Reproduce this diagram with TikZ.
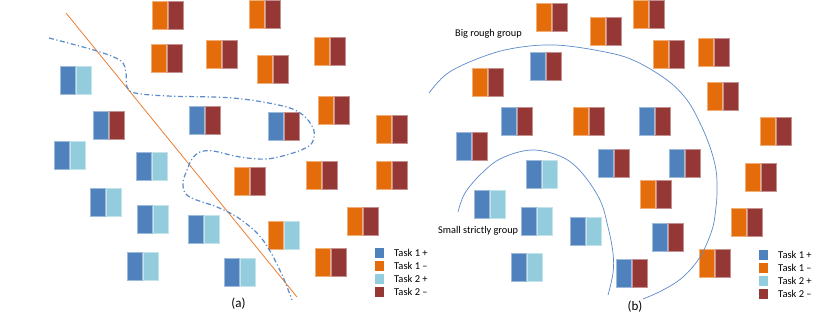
\documentclass[tikz,border=0pt]{standalone}
\usepackage{fontspec}
\setmainfont{Carlito}
\definecolor{cB}{HTML}{4F81BD}
\definecolor{cO}{HTML}{E46C0A}
\definecolor{cL}{HTML}{93CDDD}
\definecolor{cR}{HTML}{953735}
\definecolor{cLine}{HTML}{ED7D31}
\definecolor{cArc}{HTML}{5B8AC9}
\newcommand\pairbx[4]{%
  \filldraw[fill=c#3,draw=c#3!55!white,line width=0.5pt] (#1,#2) rectangle ++(15,28.5);
  \filldraw[fill=c#4,draw=c#4!55!white,line width=0.5pt] (#1+16.5,#2) rectangle ++(15,28.5);}
\tikzset{
  legsq/.style={draw=none,minimum width=9pt,minimum height=10pt,inner sep=0pt,anchor=north west},
  legtxt/.style={anchor=west,inner sep=0pt,font=\fontsize{10.5}{12}\selectfont},
  grptxt/.style={anchor=base west,inner sep=0pt,font=\fontsize{10.3}{12}\selectfont},
  sublbl/.style={inner sep=0pt,font=\fontsize{13}{15}\selectfont},
  dashdot/.style={draw=cArc,line width=1.2pt,dash pattern=on 5pt off 2.5pt on 1.2pt off 2.5pt},
  arcline/.style={draw=cArc,line width=0.7pt}
}
\begin{document}
\begin{tikzpicture}[x=1pt,y=-1pt]
\useasboundingbox (0,0) rectangle (830,314);
% ---- panel (a) ----
\foreach \x/\y/\l/\r in {152/1/O/R,249/0/O/R,151/44/O/R,206/40/O/R,257/55/O/R,314/37/O/R,
  60/66/B/L,93/111/B/R,189/106/B/R,268/112/B/R,318/96/O/R,376/115/O/R,
  54/141/B/L,136/152/B/L,234/167/O/R,306/161/O/R,376/161/O/R,90/188/B/L,
  137/205/B/L,188/215/B/L,268/221/O/L,347/207/O/R,315/248/O/R,127/252/B/L,224/258/B/L}
  {\pairbx{\x}{\y}{\l}{\r}}
\coordinate (la) at (66,13);
\coordinate (lb) at (297,297);
\draw[cLine,line width=0.8pt] (la) -- (lb);
\draw[dashdot] plot[smooth,tension=0.55] coordinates {(49,38) (97,51) (121,61) (126,73) (127,87) (135,93) (167,96) (233,98) (283,106) (303,115) (313,128) (314,138) (309,146) (293,153) (267,159) (240,157) (213,151) (200,152) (192,159) (187,170) (183,182) (185,193) (194,199) (217,207) (237,217) (257,233) (270,251) (283,277) (292,300)};
% legend (a)
\foreach \i/\c/\t in {0/B/Task 1 +,1/O/Task 1 –,2/L/Task 2 +,3/R/Task 2 –}{
  \node[legsq,fill=c\c] (sa\i) at (375,248+13*\i) {};
  \node[legtxt] (ta\i) at (394,253+13*\i) {\t};
}
\node[sublbl] (capa) at (238.5,303.5) {(a)};
% ---- panel (b) ----
\foreach \x/\y/\l/\r in {536/3/O/R,590/17/O/R,633/0/O/R,653/40/O/R,698/38/O/R,530/52/B/R,
  472/68/O/R,707/82/O/R,501/107/B/R,573/107/O/R,639/107/B/R,760/117/O/R,
  456/132/B/R,598/149/B/R,669/149/B/R,526/160/B/L,745/163/O/R,640/180/O/R,
  474/190/B/L,521/207/B/L,570/217/B/L,652/223/B/R,731/208/O/R,699/249/O/R,511/253/B/L,616/259/B/R}
  {\pairbx{\x}{\y}{\l}{\r}}
\draw[arcline] plot[smooth,tension=0.6] coordinates {(429,93) (448,73) (482,57) (515,48) (555,45) (600,51) (633,60) (667,80) (687,100) (700,123) (710,147) (716,170) (717,190) (716,207) (712,230) (700,257) (683,277) (663,290) (643,299)};
\draw[arcline] plot[smooth,tension=0.6] coordinates {(458,212) (465,193) (482,173) (502,158) (532,150) (562,157) (582,173) (600,200) (608,227) (613,253) (613,273) (608,295)};
\node[grptxt] (big) at (455,36) {Big rough group};
\node[grptxt] (small) at (438,233) {Small strictly group};
\foreach \i/\c/\t in {0/B/Task 1 +,1/O/Task 1 –,2/L/Task 2 +,3/R/Task 2 –}{
  \node[legsq,fill=c\c] (sb\i) at (759,250+13*\i) {};
  \node[legtxt] (tb\i) at (778,255+13*\i) {\t};
}
\node[sublbl] (capb) at (635,307) {(b)};
\end{tikzpicture}
\end{document}
